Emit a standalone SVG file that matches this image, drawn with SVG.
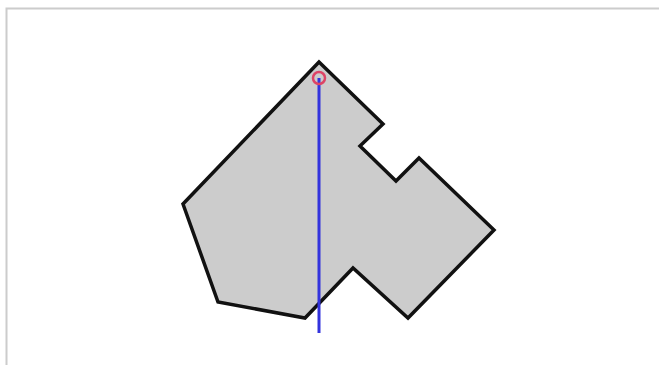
<svg xmlns="http://www.w3.org/2000/svg" width="659" height="365" viewBox="0 0 659 365">
<style>
.frame{stroke:#cccccc;stroke-width:2;fill:none}
.poly{fill:#cccccc;stroke:#111111;stroke-width:3.5;stroke-linejoin:miter}
.axis{stroke:#3333dd;stroke-width:3}
.pt{fill:none;stroke:#dd4466;stroke-width:2.5}
</style>
<rect width="659" height="365" fill="#ffffff"/>
<path class="frame" d="M6.5 365 V8.5 H659"/>
<g id="shape">
<polygon class="poly" points="319,62 383,124 360,146 396,181 419,158 494,230 408,318 353,268 305,318 218,302 183,204"/>
</g>
<g id="connectors">
<line class="axis" x1="319" y1="78" x2="319" y2="333"/>
</g>
<g id="marker">
<circle class="pt" cx="319" cy="78" r="6"/>
</g>
</svg>
